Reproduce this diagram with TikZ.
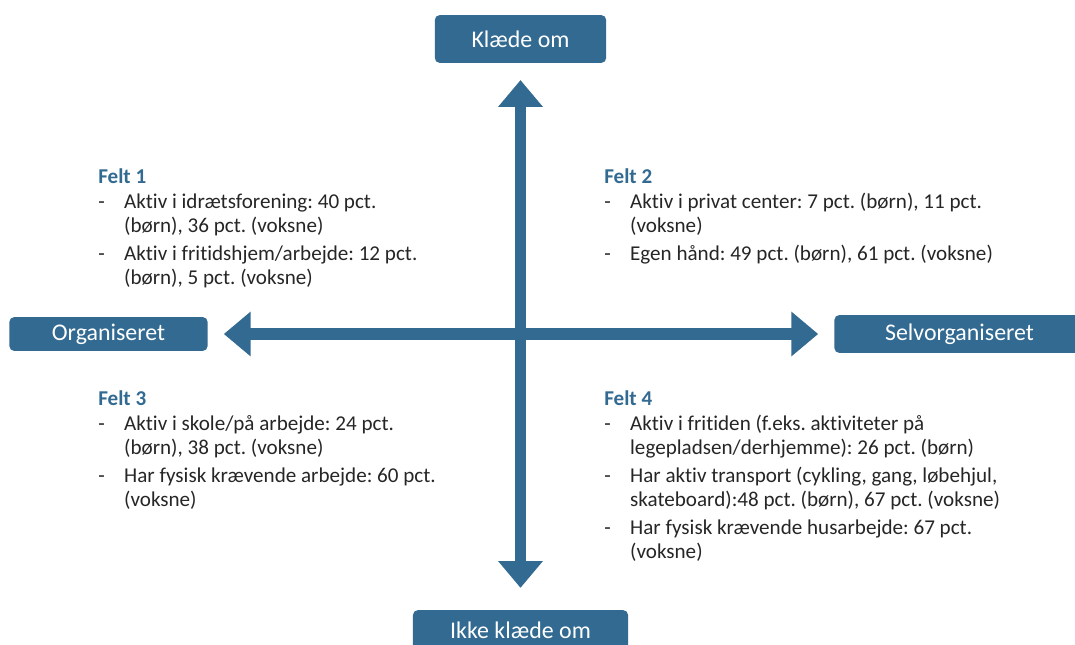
\documentclass[tikz,border=0pt]{standalone}
\usepackage{fontspec}
\setmainfont{Carlito}[Ligatures=NoCommon]
\usetikzlibrary{arrows.meta}
\definecolor{boxblue}{HTML}{326A91}
\definecolor{txtgray}{HTML}{262626}
\frenchspacing
\tikzset{
  labelbox/.style={fill=boxblue, rounded corners=3.5pt, text=white,
    font=\fontsize{17}{20}\selectfont, inner sep=0pt, align=center},
  axisarrow/.style={boxblue, line width=8.5pt,
    {Triangle[length=19pt,width=30.5pt]}-{Triangle[length=19pt,width=30.5pt]}},
  feltblock/.style={anchor=north west, inner sep=0pt, text=txtgray,
    font=\fontsize{15}{17.5}\selectfont, align=left}
}
\newcommand{\felthead}[1]{\multicolumn{2}{@{}l@{}}{\textbf{\color{boxblue}#1}}}

\begin{document}
\begin{tikzpicture}[x=0.025cm, y=-0.025cm]
\useasboundingbox (0,0) rectangle (1075,644);

% --- Axis labels ---
\node[labelbox, minimum width=121.9pt, minimum height=34pt] (klaede) at (520.5,39) {Klæde om};
\node[labelbox, minimum width=153pt, minimum height=28.3pt] (ikkeklaede) at (520.5,630) {Ikke klæde om};
\node[labelbox, minimum width=141pt, minimum height=24.1pt] (org) at (108.5,334) {Organiseret};
\node[labelbox, minimum width=178pt, minimum height=26.9pt] (selvorg) at (959.5,334) {Selvorganiseret};

% --- Axes ---
\draw[axisarrow, shorten <=12pt, shorten >=15.6pt] (klaede.south) -- (ikkeklaede.north);
\draw[axisarrow, shorten <=11.3pt, shorten >=11.3pt] (org.east) -- (selvorg.west);

% --- Fields ---
\node[feltblock] (felt1) at (98,166) {\begin{tabular}{@{}p{18.4pt}@{}l@{}}
\felthead{Felt 1}\\
- & Aktiv i idrætsforening: 40 pct.\\
  & (børn), 36 pct. (voksne)\\[2pt]
- & Aktiv i fritidshjem/arbejde: 12 pct.\\
  & (børn), 5 pct. (voksne)
\end{tabular}};

\node[feltblock] (felt2) at (604,166) {\begin{tabular}{@{}p{18.4pt}@{}l@{}}
\felthead{Felt 2}\\
- & Aktiv i privat center: 7 pct. (børn), 11 pct.\\
  & (voksne)\\[2pt]
- & Egen hånd: 49 pct. (børn), 61 pct. (voksne)
\end{tabular}};

\node[feltblock] (felt3) at (98,388) {\begin{tabular}{@{}p{18.4pt}@{}l@{}}
\felthead{Felt 3}\\
- & Aktiv i skole/på arbejde: 24 pct.\\
  & (børn), 38 pct. (voksne)\\[2pt]
- & Har fysisk krævende arbejde: 60 pct.\\
  & (voksne)
\end{tabular}};

\node[feltblock] (felt4) at (604,388) {\begin{tabular}{@{}p{18.4pt}@{}l@{}}
\felthead{Felt 4}\\
- & Aktiv i fritiden (f.eks. aktiviteter på\\
  & legepladsen/derhjemme): 26 pct. (børn)\\[2pt]
- & Har aktiv transport (cykling, gang, løbehjul,\\
  & skateboard):48 pct. (børn), 67 pct. (voksne)\\[2pt]
- & Har fysisk krævende husarbejde: 67 pct.\\
  & (voksne)
\end{tabular}};

\end{tikzpicture}
\end{document}
